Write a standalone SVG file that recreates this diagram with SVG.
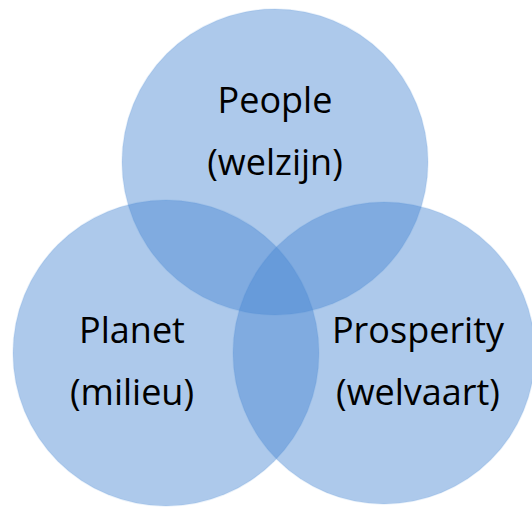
<svg xmlns="http://www.w3.org/2000/svg" width="532" height="507" viewBox="0 0 532 507">
<style>
.c{fill:#4a88d2;fill-opacity:0.45;stroke:#4a88d2;stroke-opacity:0.12;stroke-width:1.5}
.t{font-family:"Open Sans","Liberation Sans",sans-serif;font-size:36px;fill:#000;text-anchor:middle}
</style>
<rect width="532" height="507" fill="#fff"/>
<g id="people"><circle class="c" cx="275" cy="162" r="153"/></g>
<g id="planet"><circle class="c" cx="166" cy="353" r="153"/></g>
<g id="prosperity"><circle class="c" cx="384" cy="353" r="151"/></g>
<g id="labels">
<text class="t" x="275" y="113">People</text>
<text class="t" x="275" y="175">(welzijn)</text>
<text class="t" x="132" y="343">Planet</text>
<text class="t" x="132" y="405">(milieu)</text>
<text class="t" x="418" y="343">Prosperity</text>
<text class="t" x="418" y="405">(welvaart)</text>
</g>
<g id="connectors"/>
</svg>
